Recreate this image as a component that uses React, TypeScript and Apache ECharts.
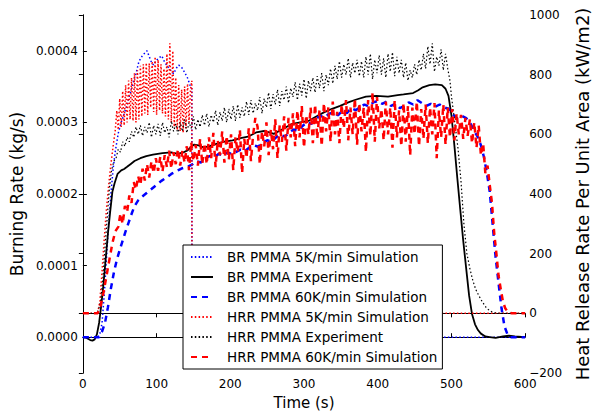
import React, { useEffect, useRef } from "react";
import * as echarts from "echarts";

type P = [number, number];

const FONT = "DejaVu Sans";

const seriesNames = [
  "BR PMMA 5K/min Simulation",
  "BR PMMA Experiment",
  "BR PMMA 60K/min Simulation",
  "HRR PMMA 5K/min Simulation",
  "HRR PMMA Experiment",
  "HRR PMMA 60K/min Simulation",
];

const xTicks = [0, 100, 200, 300, 400, 500, 600];
const leftTicks = [0, 0.0001, 0.0002, 0.0003, 0.0004];
const rightTicks = [-200, 0, 200, 400, 600, 800, 1000];

// Burning rate, 5 K/min simulation (kg/s)
const brSim5: P[] = [
  [0, 0], [20, 0], [23, 0.000004], [26, 0.00002], [29, 0.00006], [32, 0.00011],
  [35, 0.00016], [38, 0.0002], [41, 0.000235], [44, 0.00026], [48, 0.000285],
  [52, 0.0003], [56, 0.000312], [60, 0.000325], [64, 0.00034], [68, 0.000355],
  [72, 0.000368], [76, 0.000385], [80, 0.000392], [84, 0.000397], [87, 0.0004],
  [90, 0.000392], [93, 0.000384], [96, 0.00038], [99, 0.000386], [103, 0.00039],
  [107, 0.000393], [111, 0.000384], [115, 0.000378], [119, 0.000373], [123, 0.000368],
  [127, 0.000376], [130, 0.00038], [134, 0.000377], [138, 0.00037], [142, 0.000362],
  [146, 0.00035], [147.8, 0.000347], [148, 0], [600, 0],
];

// Burning rate, experiment (kg/s)
const brExp: P[] = [
  [0, 0], [5, -0.000001], [10, -0.000004], [13, -0.0000048], [16, -0.000003],
  [19, 0.000004], [22, 0.00002], [25, 0.000045], [28, 0.000075], [31, 0.00011],
  [34, 0.000145], [37, 0.000175], [40, 0.000203], [43, 0.000215], [47, 0.000228],
  [52, 0.000233], [56, 0.000235], [60, 0.000238], [65, 0.000242], [70, 0.000246],
  [78, 0.00025], [86, 0.000253], [95, 0.000255], [108, 0.000257], [120, 0.000258],
  [129, 0.000256], [136, 0.000258], [142, 0.000261], [147, 0.000266], [151, 0.000269],
  [157, 0.000268], [164, 0.000265], [172, 0.000267], [181, 0.00027], [192, 0.000273],
  [203, 0.000275], [214, 0.000278], [224, 0.00028], [235, 0.000286], [246, 0.000288],
  [253, 0.000286], [259, 0.000284], [270, 0.00029], [284, 0.000298], [295, 0.0003],
  [306, 0.000302], [316, 0.000308], [327, 0.000314], [338, 0.000319], [349, 0.000323],
  [360, 0.000328], [371, 0.000332], [384, 0.000336], [398, 0.000337], [414, 0.000336],
  [427, 0.000338], [435, 0.000339], [448, 0.000341], [455, 0.000345], [461, 0.000349],
  [470, 0.000352], [478, 0.000353], [487, 0.000352], [492, 0.000347], [496, 0.000337],
  [500, 0.00031], [504, 0.000268], [508, 0.000222], [512, 0.000178], [516, 0.000135],
  [520, 0.000096], [524, 0.000058], [528, 0.000032], [532, 0.000018], [536, 0.00001],
  [540, 0.000005], [546, 0.000001], [552, 0], [560, -0.000001], [570, 0.000001],
  [578, 0.000002], [586, 0.000001], [600, 0],
];

// Burning rate, 60 K/min simulation (kg/s)
const brSim60: P[] = [
  [0, 0], [22, 0], [26, 0.000008], [30, 0.00002], [34, 0.000042], [38, 0.000068],
  [42, 0.00009], [46, 0.000108], [50, 0.000122], [54, 0.000135], [58, 0.000148],
  [62, 0.00016], [66, 0.000172], [70, 0.000183], [75, 0.000191], [80, 0.000196],
  [86, 0.000201], [92, 0.000206], [99, 0.000212], [106, 0.000218], [112, 0.000222],
  [120, 0.000228], [129, 0.000233], [135, 0.000236], [142, 0.000238], [148, 0.000241],
  [154, 0.000246], [160, 0.000244], [166, 0.00025], [172, 0.000253], [178, 0.000251],
  [184, 0.000256], [190, 0.000254], [196, 0.000258], [202, 0.000256], [208, 0.000259],
  [214, 0.000262], [220, 0.00026], [226, 0.000265], [232, 0.000268], [238, 0.000266],
  [244, 0.000272], [250, 0.000275], [256, 0.000273], [262, 0.000279], [268, 0.000283],
  [274, 0.00028], [280, 0.000286], [286, 0.00029], [292, 0.000288], [298, 0.000295],
  [304, 0.0003], [310, 0.000298], [316, 0.000305], [322, 0.000309], [328, 0.000307],
  [334, 0.000312], [340, 0.000314], [346, 0.00031], [352, 0.000316], [358, 0.000313],
  [364, 0.00032], [370, 0.000317], [376, 0.000321], [382, 0.000325], [388, 0.000322],
  [394, 0.000328], [400, 0.00033], [406, 0.000326], [412, 0.000329], [418, 0.000323],
  [424, 0.000326], [430, 0.00032], [436, 0.000323], [442, 0.000328], [448, 0.000325],
  [454, 0.000331], [460, 0.000327], [466, 0.000323], [472, 0.000326], [478, 0.000322],
  [484, 0.000325], [490, 0.000321], [496, 0.000319], [502, 0.000311], [508, 0.000306],
  [514, 0.000309], [520, 0.000306], [526, 0.000298], [531, 0.000288], [536, 0.000279],
  [540, 0.000268], [544, 0.000252], [548, 0.00023], [552, 0.000203], [556, 0.000157],
  [560, 0.000111], [564, 0.000075], [568, 0.00004], [572, 0.000015], [576, 0.000004],
  [580, 0], [600, 0],
];

// HRR, 5 K/min simulation (kW/m2)
const hrr5Head: P[] = [
  [0, 0], [20, 0], [23, 40], [26, 140], [29, 250], [32, 350], [35, 430],
  [38, 500], [41, 560], [44, 615],
];
const hrr5Start = 46;
const hrr5Step = 2;
const hrr5Values = [
  680, 615, 720, 625, 745, 630, 765, 640, 780, 650,
  790, 645, 805, 640, 815, 650, 830, 660, 835, 670,
  840, 665, 838, 690, 845, 675, 860, 665, 850, 680,
  835, 670, 820, 660, 870, 650, 905, 640, 880, 625,
  790, 615, 765, 610, 750, 605, 760, 620, 770, 640,
  750,
];
const hrr5Tail: P[] = [[147.8, 780], [148, 0], [600, 0]];

// HRR, experiment (kW/m2)
const hrrExpHead: P[] = [
  [0, 0], [18, 0], [21, 10], [24, 40], [27, 110], [30, 220], [33, 320],
  [36, 420], [39, 480], [42, 510],
];
const hrrExpStart = 45;
const hrrExpStep = 3;
const hrrExpValues = [
  520, 550, 540, 575, 560, 590, 575, 610, 590, 625,
  600, 630, 595, 625, 605, 640, 590, 630, 600, 635,
  595, 640, 605, 625, 590, 645, 610, 635, 600, 640,
  610, 650, 605, 640, 620, 660, 615, 650, 625, 665,
  630, 670, 625, 665, 640, 680, 630, 675, 645, 690,
  640, 685, 650, 695, 645, 700, 655, 690, 660, 710,
  665, 715, 670, 705, 680, 725, 670, 720, 690, 740,
  685, 735, 700, 750, 695, 745, 715, 760, 705, 755,
  725, 775, 715, 770, 730, 785, 720, 780, 745, 790,
  740, 795, 755, 805, 745, 800, 765, 820, 770, 830,
  785, 845, 790, 835, 800, 855, 790, 840, 805, 850,
  795, 845, 790, 860, 800, 870, 785, 850, 805, 865,
  800, 855, 790, 870, 810, 875, 795, 860, 805, 850,
  790, 840, 780, 815, 790, 835, 800, 850, 815, 870,
  820, 895, 835, 905, 810, 860, 830, 885, 815, 870,
  820, 780,
];
const hrrExpTail: P[] = [
  [500, 728], [504, 651], [509, 551], [513, 442], [517, 297], [521, 200],
  [525, 150], [529, 110], [533, 80], [537, 60], [542, 38], [547, 20],
  [552, 8], [558, 2], [565, 0], [600, 0],
];

// HRR, 60 K/min simulation (kW/m2)
const hrr60Head: P[] = [
  [0, 0], [20, 0], [24, 25], [28, 70], [32, 125], [36, 180], [40, 235], [44, 275],
];
const hrr60Start = 48;
const hrr60Step = 3;
const hrr60Values = [
  290, 335, 300, 360, 340, 395, 370, 440, 415, 460,
  430, 485, 445, 500, 455, 510, 470, 520, 478, 525,
  475, 530, 490, 545, 485, 540, 500, 550, 495, 545,
  505, 560, 480, 575, 510, 565, 495, 585, 500, 570,
  500, 590, 520, 605, 490, 580, 530, 610, 505, 595,
  515, 600, 480, 590, 540, 615, 470, 585, 520, 620,
  510, 600, 655, 625, 500, 610, 560, 640, 530, 615,
  550, 650, 520, 630, 575, 660, 545, 655, 590, 670,
  560, 680, 590, 695, 555, 665, 600, 690, 570, 700,
  585, 680, 560, 705, 610, 690, 575, 710, 600, 675,
  570, 700, 620, 715, 580, 690, 600, 720, 565, 705,
  610, 690, 540, 715, 595, 740, 575, 725, 620, 685,
  580, 710, 600, 690, 555, 715, 590, 680, 560, 705,
  575, 695, 530, 690, 600, 710, 560, 685, 585, 700,
  570, 690, 600, 705, 520, 680, 590, 700, 565, 690,
  590, 685, 580, 670, 600, 665, 585, 655, 595, 650,
  570, 640, 555, 630, 530, 570, 470,
];
const hrr60Tail: P[] = [
  [549, 495], [552, 430], [555, 370], [558, 270], [561, 200], [564, 125],
  [567, 80], [570, 38], [573, 17], [577, 3], [582, 0], [600, 0],
];

function build(head: P[], start: number, step: number, values: number[], tail: P[]): P[] {
  return [...head, ...values.map((v, i) => [start + i * step, v] as P), ...tail];
}

export default function App() {
  const ref = useRef<HTMLDivElement>(null);

  useEffect(() => {
    if (!ref.current) return;
    const chart = echarts.init(ref.current, null, { renderer: "svg" });

    const hrr5 = build(hrr5Head, hrr5Start, hrr5Step, hrr5Values, hrr5Tail);
    const hrrExp = build(hrrExpHead, hrrExpStart, hrrExpStep, hrrExpValues, hrrExpTail);
    const hrr60 = build(hrr60Head, hrr60Start, hrr60Step, hrr60Values, hrr60Tail);

    const axisLine = { show: true, lineStyle: { color: "#000", width: 1 } };
    const tick = { show: true, inside: true, length: 4, lineStyle: { color: "#000", width: 1 } };
    const label = { color: "#000", fontFamily: FONT, fontSize: 12 };

    const dotted = [1.5, 2.3];
    const dashed = [6, 5];

    const line = (
      name: string,
      data: P[],
      yAxisIndex: number,
      color: string,
      width: number,
      type: any
    ) => ({
      name,
      type: "line",
      data,
      yAxisIndex,
      xAxisIndex: 0,
      symbol: "none",
      showSymbol: false,
      smooth: false,
      lineStyle: { color, width, type },
      itemStyle: { color },
      emphasis: { disabled: true },
    });

    chart.setOption({
      animation: false,
      backgroundColor: "#fff",
      grid: { left: 80, right: 55, top: 15, bottom: 39, containLabel: false },
      legend: {
        orient: "vertical",
        left: 183,
        top: 245,
        itemWidth: 22,
        itemHeight: 14,
        itemGap: 6,
        padding: [5, 5, 5, 7],
        backgroundColor: "#fff",
        borderColor: "#000",
        borderWidth: 1,
        borderRadius: 0,
        itemStyle: { opacity: 0, borderWidth: 0 },
        textStyle: { color: "#000", fontFamily: FONT, fontSize: 13.5, padding: [0, 0, 0, 9] },
        data: seriesNames,
        selectedMode: false,
      },
      xAxis: [
        {
          type: "value",
          position: "bottom",
          min: 0,
          max: 600,
          interval: 100,
          axisLine,
          axisTick: tick,
          splitLine: { show: false },
          axisLabel: { ...label, margin: 5, customValues: xTicks },
          name: "Time (s)",
          nameLocation: "middle",
          nameGap: 22,
          nameTextStyle: { color: "#000", fontFamily: FONT, fontSize: 15 },
        },
        {
          type: "value",
          position: "top",
          min: 0,
          max: 600,
          interval: 100,
          axisLine,
          axisTick: tick,
          splitLine: { show: false },
          axisLabel: { show: false },
        },
      ],
      yAxis: [
        {
          type: "value",
          position: "left",
          min: -0.00005,
          max: 0.00045,
          axisLine,
          axisTick: { ...tick, customValues: leftTicks },
          splitLine: { show: false },
          axisLabel: {
            ...label,
            margin: 5,
            customValues: leftTicks,
            formatter: (v: number) => v.toFixed(4),
          },
          name: "Burning Rate (kg/s)",
          nameLocation: "middle",
          nameRotate: 90,
          nameGap: 51,
          nameTextStyle: { color: "#000", fontFamily: FONT, fontSize: 17 },
        },
        {
          type: "value",
          position: "right",
          min: -200,
          max: 1000,
          interval: 200,
          axisLine,
          axisTick: { ...tick, customValues: rightTicks },
          splitLine: { show: false },
          axisLabel: {
            ...label,
            margin: 4,
            customValues: rightTicks,
            formatter: (v: number) => (v < 0 ? "\u2212" + Math.abs(v) : String(v)),
          },
          name: "Heat Release Rate Per Unit Area (kW/m2)",
          nameLocation: "middle",
          nameRotate: 90,
          nameGap: 40,
          nameTextStyle: { color: "#000", fontFamily: FONT, fontSize: 18 },
        },
      ],
      series: [
        line(seriesNames[0], brSim5, 0, "#0000ff", 1.5, dotted),
        line(seriesNames[1], brExp, 0, "#000000", 1.8, "solid"),
        line(seriesNames[2], brSim60, 0, "#0000ff", 2.5, dashed),
        line(seriesNames[3], hrr5, 1, "#ff0000", 1.5, dotted),
        line(seriesNames[4], hrrExp, 1, "#000000", 1.2, dotted),
        line(seriesNames[5], hrr60, 1, "#ff0000", 2.5, dashed),
      ],
    });

    return () => chart.dispose();
  }, []);

  return (
    <div
      ref={ref}
      style={{ position: "fixed", left: 0, top: 0, width: 599, height: 415, background: "#fff" }}
    />
  );
}
